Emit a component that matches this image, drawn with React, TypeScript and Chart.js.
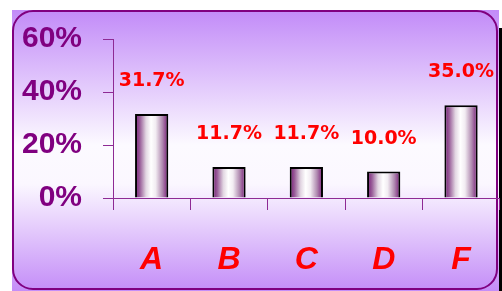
import React, { useEffect, useRef } from 'react';
import { Chart, registerables } from 'chart.js';

Chart.register(...registerables);

const categories = ['A', 'B', 'C', 'D', 'F'];
const values = [31.7, 11.7, 11.7, 10.0, 35.0];
const valueLabels = ['31.7%', '11.7%', '11.7%', '10.0%', '35.0%'];
const yMin = 0;
const yMax = 60;
const yStep = 20;

const AXIS = '#8e2a94';

const panelPlugin = {
  id: 'panel',
  beforeDraw(chart: any) {
    const ctx = chart.ctx;
    const W = chart.width;
    const H = chart.height;
    ctx.save();
    ctx.fillStyle = '#ffffff';
    ctx.fillRect(0, 0, W, H);
    const g = ctx.createLinearGradient(0, 10, 0, H);
    g.addColorStop(0, '#c28bf8');
    g.addColorStop(0.48, '#fcfaff');
    g.addColorStop(0.62, '#fbf7ff');
    g.addColorStop(1, '#c48df8');
    ctx.fillStyle = g;
    ctx.fillRect(12, 10, 487, H - 10);
    ctx.fillStyle = '#000000';
    ctx.fillRect(499, 28, 3, H - 28);
    ctx.strokeStyle = '#800080';
    ctx.lineWidth = 2;
    ctx.beginPath();
    ctx.roundRect(13, 11, 484, 278, 20);
    ctx.stroke();
    ctx.restore();
  },
};

const labelPlugin = {
  id: 'valueLabels',
  afterDatasetsDraw(chart: any) {
    const ctx = chart.ctx;
    const meta = chart.getDatasetMeta(0);
    ctx.save();
    ctx.fillStyle = '#ff0000';
    ctx.font = 'bold 19px "DejaVu Sans", sans-serif';
    ctx.textAlign = 'center';
    ctx.textBaseline = 'alphabetic';
    meta.data.forEach((bar: any, i: number) => {
      ctx.fillText(valueLabels[i], bar.x, bar.y - 28);
    });
    ctx.restore();
  },
};

function barGradient(c: any) {
  const chart = c.chart;
  const xs = chart.scales && chart.scales.x;
  if (!xs || c.dataIndex === undefined) return '#c0a0c0';
  const cx = xs.getPixelForValue(c.dataIndex);
  const half = (xs.width / categories.length) * 0.43 / 2;
  if (!Number.isFinite(cx) || !Number.isFinite(half) || half <= 0) return '#c0a0c0';
  const g = chart.ctx.createLinearGradient(cx - half, 0, cx + half, 0);
  g.addColorStop(0, '#761476');
  g.addColorStop(0.15, '#9a609a');
  g.addColorStop(0.33, '#e2d6e2');
  g.addColorStop(0.48, '#ffffff');
  g.addColorStop(0.62, '#f2ecf2');
  g.addColorStop(0.82, '#b08ab0');
  g.addColorStop(1, '#761476');
  return g;
}

export default function App() {
  const ref = useRef<HTMLCanvasElement>(null);
  useEffect(() => {
    if (!ref.current) return;
    const chart = new Chart(ref.current, {
      type: 'bar',
      data: {
        labels: categories,
        datasets: [
          {
            data: values,
            backgroundColor: barGradient as any,
            borderColor: '#000000',
            borderWidth: 2,
            categoryPercentage: 1,
            barPercentage: 0.43,
          },
        ],
      },
      options: {
        animation: false,
        responsive: false,
        layout: { padding: { top: 38, right: 2, left: 0, bottom: 0 } },
        plugins: { legend: { display: false }, tooltip: { enabled: false } },
        scales: {
          x: {
            grid: {
              display: true,
              drawOnChartArea: false,
              drawTicks: true,
              tickLength: 12,
              offset: true,
              color: AXIS,
              lineWidth: 1,
            },
            border: { display: true, color: AXIS, width: 1 },
            ticks: {
              color: '#ff0000',
              padding: 31,
              font: { family: '"Liberation Sans", Arial, sans-serif', size: 32, style: 'italic', weight: 'bold' },
            },
            afterFit(scale: any) {
              scale.height = 93;
            },
          },
          y: {
            min: yMin,
            max: yMax,
            grid: {
              display: true,
              drawOnChartArea: false,
              drawTicks: true,
              tickLength: 10,
              color: AXIS,
              lineWidth: 1,
            },
            border: { display: true, color: AXIS, width: 1 },
            ticks: {
              stepSize: yStep,
              color: '#800080',
              padding: 21,
              callback: (v: any) => v + '%',
              font: { family: '"Liberation Sans", Arial, sans-serif', size: 30, weight: 'bold' },
            },
            afterFit(scale: any) {
              scale.width = 113;
            },
          },
        },
      },
      plugins: [panelPlugin, labelPlugin],
    });
    return () => chart.destroy();
  }, []);
  return (
    <div style={{ position: 'absolute', left: 0, top: 0, width: 502, height: 291 }}>
      <canvas ref={ref} width={502} height={291} style={{ width: 502, height: 291, display: 'block' }} />
    </div>
  );
}
